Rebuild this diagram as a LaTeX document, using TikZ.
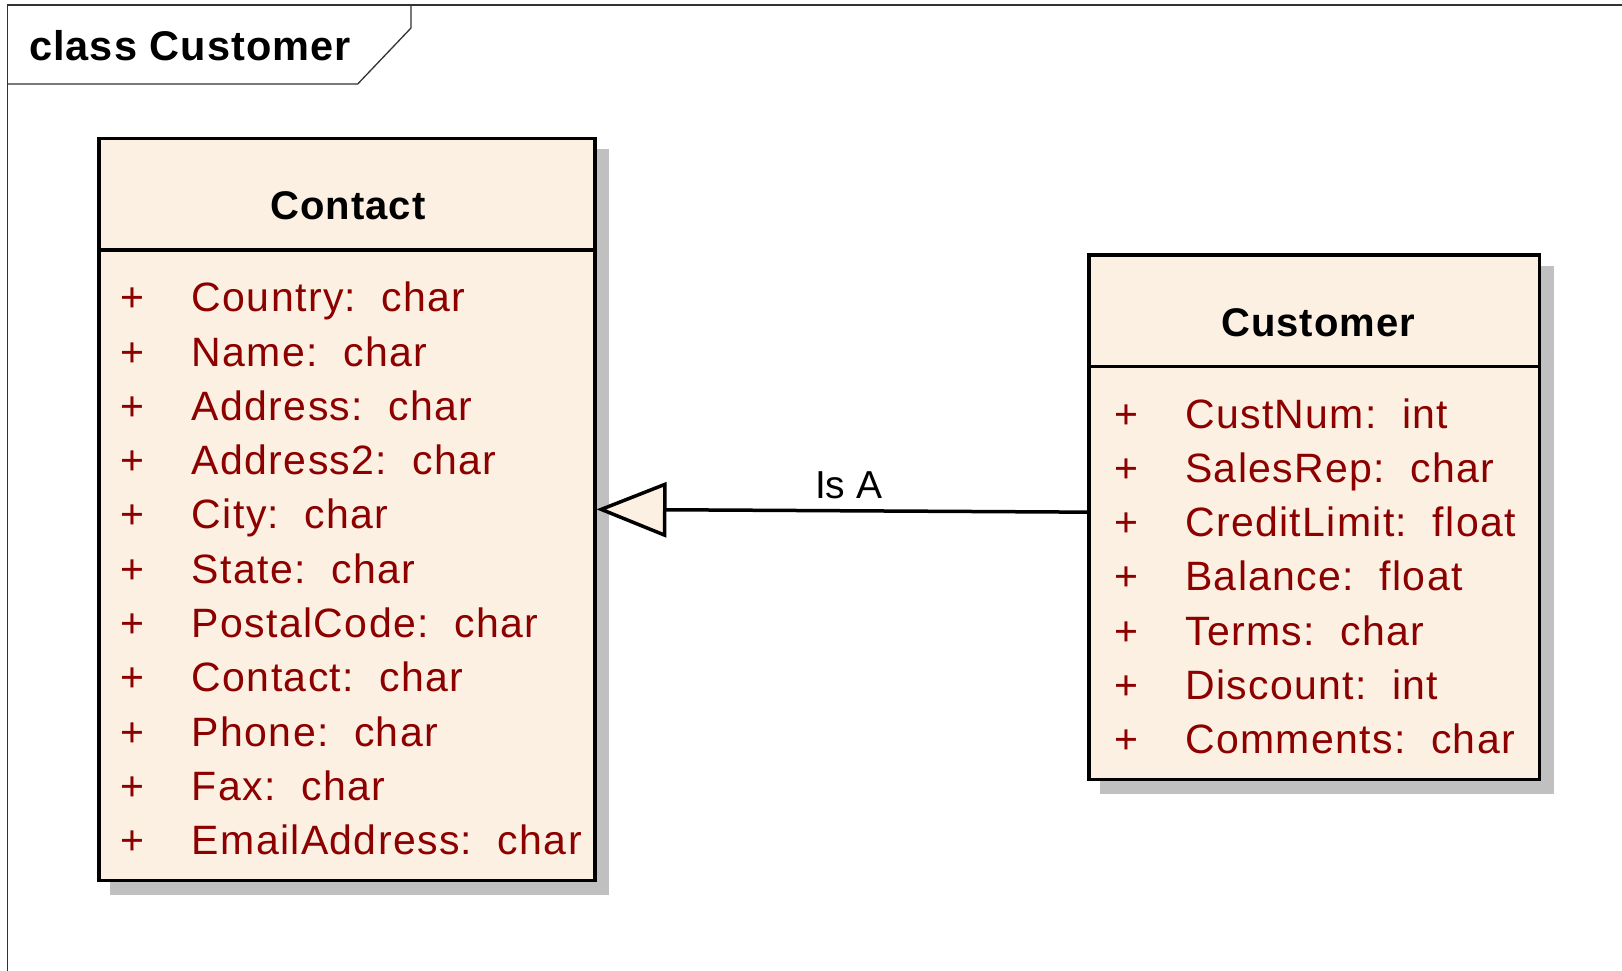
\documentclass[tikz,border=0pt]{standalone}
\usepackage{fontspec}
\setmainfont{Liberation Sans}
\newfontfamily\attrfont[LetterSpace=3.3]{Liberation Sans}
\newfontfamily\headfont[LetterSpace=2.5]{Liberation Sans}
\usetikzlibrary{arrows.meta,shadows,calc}

\definecolor{classfill}{RGB}{251,240,226}
\definecolor{attrred}{RGB}{140,0,0}
\definecolor{shadowgray}{RGB}{192,192,192}
\definecolor{framegray}{RGB}{50,50,50}

\tikzset{
  classbox/.style={draw=black, line width=3.5pt, fill=classfill, rectangle,
    inner sep=0pt,
    drop shadow={shadow xshift=12.5pt, shadow yshift=-12.5pt,
      fill=shadowgray, draw=shadowgray, line width=3.5pt, opacity=1}},
  classrule/.style={draw=black, line width=3.5pt},
  classtitle/.style={anchor=base, inner sep=0pt, font=\headfont\bfseries\fontsize{40}{46}\selectfont},
  attrsign/.style={anchor=base, inner sep=0pt, text=attrred, font=\attrfont\fontsize{41}{48}\selectfont},
  attrtext/.style={anchor=base west, inner sep=0pt, text=attrred, font=\attrfont\fontsize{41}{48}\selectfont},
  framerule/.style={draw=framegray, line width=1.3pt},
  frametitle/.style={anchor=base west, inner sep=0pt, font=\headfont\bfseries\fontsize{41.5}{48}\selectfont},
  conlabel/.style={anchor=base, inner sep=0pt, font=\fontsize{39}{46}\selectfont},
  generalization/.style={draw=black, line width=3.5pt,
    -{Triangle[length=70pt, width=55pt, fill=classfill]}},
}

\begin{document}
\begin{tikzpicture}[x=1pt, y=-1pt]
  \useasboundingbox[fill=white] (0,0) rectangle (1622,970);

  % diagram frame with its name tab
  \draw[framerule] (7.3,980) -- (7.3,5) -- (1640,5);
  \draw[framerule] (411,5) -- (411,28) -- (357.7,84) -- (7.3,84);
  \node[frametitle] (frametag) at (29,60) {class Customer};

  % class Contact
  \node[classbox, minimum width=496pt, minimum height=741.8pt] (contact) at (346.75,509.35) {};
  \draw[classrule] ([yshift=-113.3pt]contact.north west) -- ([yshift=-113.3pt]contact.north east);
  \node[classtitle] (contactname) at (348,219.5) {Contact};
  \foreach \attr [count=\i from 0] in {Country:~~char, Name:~~char, Address:~~char,
      Address2:~~char, City:~~char, State:~~char, PostalCode:~~char, Contact:~~char,
      Phone:~~char, Fax:~~char, EmailAddress:~~char} {
    \node[attrsign] (contactsign\i) at (132,311.7+54.3*\i) {+};
    \node[attrtext] (contactattr\i) at (191.7,311.7+54.3*\i) {\attr};
  }

  % class Customer
  \node[classbox, minimum width=450.2pt, minimum height=524.2pt] (customer) at (1314.15,517.15) {};
  \draw[classrule] ([yshift=-113.4pt]customer.north west) -- ([yshift=-113.4pt]customer.north east);
  \node[classtitle] (customername) at (1318,336.5) {Customer};
  \foreach \attr [count=\i from 0] in {CustNum:~~int, SalesRep:~~char, CreditLimit:~~float,
      Balance:~~float, Terms:~~char, Discount:~~int, Comments:~~char} {
    \node[attrsign] (customersign\i) at (1126,428+54.3*\i) {+};
    \node[attrtext] (customerattr\i) at (1185,428+54.3*\i) {\attr};
  }

  % generalization: Customer is a Contact
  \draw[generalization] ([yshift=5pt]customer.west) -- (contact.east);
  \node[conlabel] (isa) at (848.7,498.3) {Is A};
\end{tikzpicture}
\end{document}
